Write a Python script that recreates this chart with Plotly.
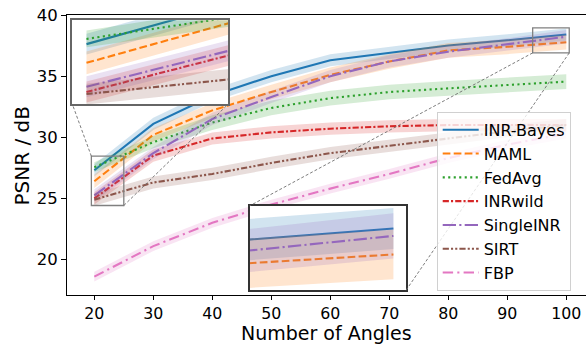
import plotly.graph_objects as go

# ---- data -------------------------------------------------------------
angles = [20, 30, 40, 50, 60, 70, 80, 90, 100]

methods = ["INR-Bayes", "MAML", "FedAvg", "INRwild", "SingleINR", "SIRT", "FBP"]

psnr_inr_bayes = [27.3, 31.1, 33.4, 35.0, 36.3, 36.9, 37.5, 37.93, 38.4]
psnr_maml      = [26.4, 30.2, 32.2, 33.7, 35.1, 36.2, 37.1, 37.4, 37.77]
psnr_fedavg    = [27.55, 29.6, 31.2, 32.4, 33.2, 33.7, 34.0, 34.25, 34.55]
psnr_inrwild   = [25.0, 28.5, 29.9, 30.4, 30.7, 30.9, 31.0, 31.0, 31.0]
psnr_singleinr = [25.25, 28.7, 31.5, 33.3, 35.0, 36.2, 37.0, 37.6, 38.22]
psnr_sirt      = [24.9, 26.3, 27.0, 27.9, 28.7, 29.3, 29.9, 30.5, 31.0]
psnr_fbp       = [18.6, 21.1, 23.0, 24.5, 25.8, 27.0, 28.3, 29.4, 30.3]

std_inr_bayes = [0.5, 0.5, 0.5, 0.5, 0.5, 0.5, 0.5, 0.5, 0.5]
std_maml      = [0.55, 0.55, 0.6, 0.6, 0.6, 0.6, 0.6, 0.6, 0.6]
std_fedavg    = [0.4, 0.5, 0.6, 0.6, 0.6, 0.6, 0.6, 0.6, 0.6]
std_inrwild   = [0.5, 0.5, 0.5, 0.5, 0.5, 0.5, 0.5, 0.5, 0.5]
std_singleinr = [0.5, 0.5, 0.5, 0.5, 0.5, 0.5, 0.5, 0.5, 0.55]
std_sirt      = [0.5, 0.5, 0.5, 0.5, 0.5, 0.5, 0.5, 0.5, 0.5]
std_fbp       = [0.4, 0.4, 0.4, 0.4, 0.4, 0.4, 0.4, 0.4, 0.4]

x_ticks = [20, 30, 40, 50, 60, 70, 80, 90, 100]
y_ticks = [20, 25, 30, 35, 40]

# ---- styling ----------------------------------------------------------
colors = ["#1f77b4", "#ff7f0e", "#2ca02c", "#d62728", "#9467bd", "#8c564b", "#e377c2"]
dashes = ["solid", "7.7px,3.3px", "2.1px,3.4px", "6.2px,2.1px,2.1px,2.1px",
          "13.3px,3.3px,2.1px,3.3px", "6.2px,2.1px,2.1px,2.1px,2.1px,2.1px",
          "10.4px,4.2px,2.1px,4.2px"]
means = [psnr_inr_bayes, psnr_maml, psnr_fedavg, psnr_inrwild,
         psnr_singleinr, psnr_sirt, psnr_fbp]
stds = [std_inr_bayes, std_maml, std_fedavg, std_inrwild,
        std_singleinr, std_sirt, std_fbp]

W, H = 586, 345
ML, MR, MT, MB = 67, 0, 14.5, 50
PW, PH = W - ML - MR, H - MT - MB

x_range = [15.37, 103.34]
y_range = [17.1, 40.0]

# zoomed regions for the two insets
z1_x, z1_y = [19.5, 25.0], [24.42, 28.45]
z2_x, z2_y = [94.3, 100.5], [36.9, 38.95]


def rgba(hex_color, a):
    h = hex_color.lstrip("#")
    r, g, b = int(h[0:2], 16), int(h[2:4], 16), int(h[4:6], 16)
    return f"rgba({r},{g},{b},{a})"


def to_paper(x, y):
    px = (x - x_range[0]) / (x_range[1] - x_range[0])
    py = (y - y_range[0]) / (y_range[1] - y_range[0])
    return px, py


def px_to_paper(px, py):
    return (px - ML) / PW, (H - MB - py) / PH


fig = go.Figure()

for xa, ya, main in [("x", "y", True), ("x2", "y2", False), ("x3", "y3", False)]:
    for name, c, d, m, s in zip(methods, colors, dashes, means, stds):
        upper = [a + b for a, b in zip(m, s)]
        lower = [a - b for a, b in zip(m, s)]
        fig.add_trace(go.Scatter(x=angles, y=upper, mode="lines", line=dict(width=0),
                                 xaxis=xa, yaxis=ya, showlegend=False, hoverinfo="skip"))
        fig.add_trace(go.Scatter(x=angles, y=lower, mode="lines", line=dict(width=0),
                                 fill="tonexty", fillcolor=rgba(c, 0.2),
                                 xaxis=xa, yaxis=ya, showlegend=False, hoverinfo="skip"))
        fig.add_trace(go.Scatter(x=angles, y=m, mode="lines", name=name,
                                 line=dict(color=c, width=2.1, dash=d),
                                 xaxis=xa, yaxis=ya, showlegend=main))

fig.update_layout(
    width=W, height=H,
    margin=dict(l=ML, r=MR, t=MT, b=MB, pad=0),
    paper_bgcolor="white", plot_bgcolor="white",
    font=dict(family="DejaVu Sans", color="black"),
    xaxis=dict(domain=[0, 1], range=x_range, tickvals=x_ticks, ticks="outside",
               ticklen=4, tickwidth=1, tickcolor="black", showline=True,
               linecolor="black", linewidth=1, mirror=True, showgrid=False,
               zeroline=False,
               tickfont=dict(family="DejaVu Sans", size=15.8, color="black")),
    yaxis=dict(domain=[0, 1], range=y_range, tickvals=y_ticks, ticks="outside",
               ticklen=5, tickwidth=1, tickcolor="black", showline=True,
               linecolor="black", linewidth=1, showgrid=False, zeroline=False,
               tickfont=dict(family="DejaVu Sans", size=16.5, color="black")),
    legend=dict(x=(436.7 - ML) / PW, y=(H - MB - 111.5) / PH, xanchor="left", yanchor="top",
                bgcolor="rgba(255,255,255,0.8)", bordercolor="#d0d0d0", borderwidth=1,
                font=dict(family="DejaVu Sans", size=16, color="black"),
                tracegroupgap=0, traceorder="normal", itemwidth=36),
    showlegend=True,
)

# inset axes
ins1_px = (72.3, 19.7, 228.3, 103.7)
ins2_px = (249.7, 205.7, 406.0, 290.3)
for idx, (box, xr, yr, lc) in enumerate([(ins1_px, z1_x, z1_y, "#666666"),
                                         (ins2_px, z2_x, z2_y, "#333333")], start=2):
    x0p, y0p = px_to_paper(box[0], box[3])
    x1p, y1p = px_to_paper(box[2], box[1])
    common = dict(showticklabels=False, ticks="", showgrid=False, zeroline=False,
                  showline=True, mirror=True, linecolor=lc, linewidth=1.5)
    fig.update_layout(**{
        f"xaxis{idx}": dict(domain=[x0p, x1p], range=xr, anchor=f"y{idx}", **common),
        f"yaxis{idx}": dict(domain=[y0p, y1p], range=yr, anchor=f"x{idx}", **common),
    })

# zoom boxes on the main axes
for xr, yr in [(z1_x, z1_y), (z2_x, z2_y)]:
    fig.add_shape(type="rect", xref="x", yref="y", x0=xr[0], x1=xr[1], y0=yr[0], y1=yr[1],
                  line=dict(color="#808080", width=1.3), layer="above")

# connector lines from zoom boxes to inset corners
conn_style = dict(color="#6e6e6e", width=0.9, dash="3px,2px")
connectors = [
    (to_paper(z1_x[0], z1_y[1]), px_to_paper(ins1_px[0], ins1_px[3])),
    (to_paper(z1_x[1], z1_y[0]), px_to_paper(ins1_px[2], ins1_px[3])),
    (to_paper(z2_x[0], z2_y[0]), px_to_paper(ins2_px[0], ins2_px[1])),
    (to_paper(z2_x[1], z2_y[0]), px_to_paper(ins2_px[2], ins2_px[3])),
]
for (a, b) in connectors:
    fig.add_shape(type="line", xref="paper", yref="paper", x0=a[0], y0=a[1], x1=b[0], y1=b[1],
                  line=conn_style, layer="above")

# axis titles
tx, ty = px_to_paper(326.7, 344.8)
fig.add_annotation(text="Number of Angles", xref="paper", yref="paper", x=tx, y=ty,
                   showarrow=False, xanchor="center", yanchor="bottom", borderpad=0,
                   font=dict(family="DejaVu Sans", size=19, color="black"))
tx, ty = px_to_paper(22.5, 155.8)
fig.add_annotation(text="PSNR / dB", xref="paper", yref="paper", x=tx, y=ty, textangle=-90,
                   showarrow=False, xanchor="center", yanchor="middle",
                   font=dict(family="DejaVu Sans", size=20, color="black"))

fig.write_html("out.html")
